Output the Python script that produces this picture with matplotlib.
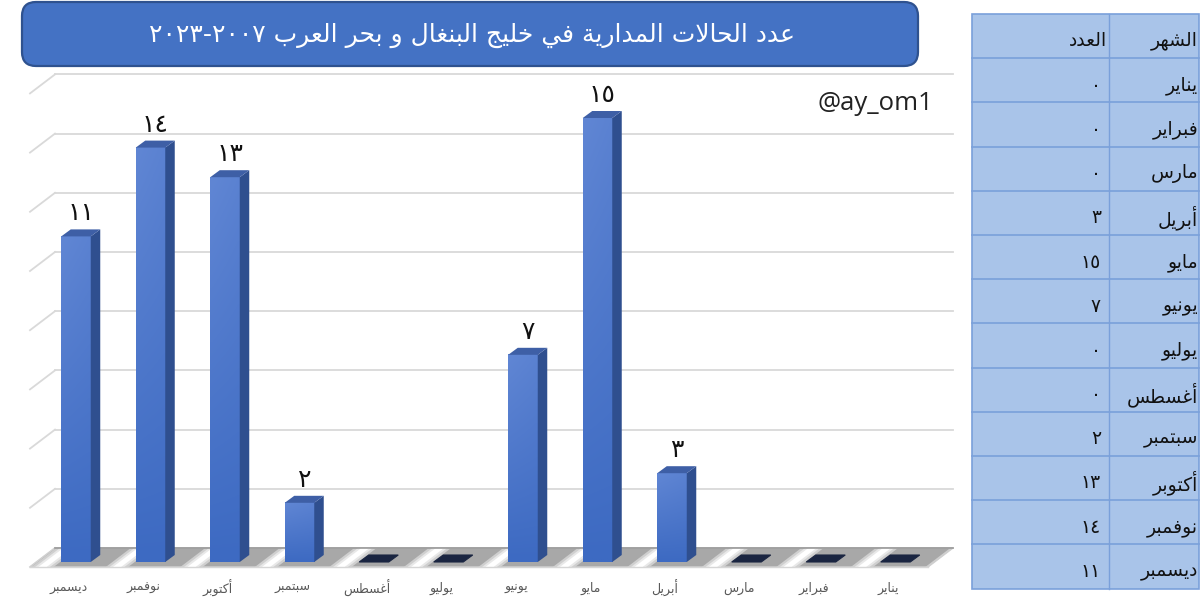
import re

import matplotlib
matplotlib.use("Agg")
import matplotlib.pyplot as plt
import numpy as np
from matplotlib.patches import FancyBboxPatch, Polygon, Rectangle

# ---------------- data ----------------
title = "عدد الحالات المدارية في خليج البنغال و بحر العرب ٢٠٠٧-٢٠٢٣"
handle = "@ay_om1"
months = ["يناير", "فبراير", "مارس", "أبريل", "مايو", "يونيو",
          "يوليو", "أغسطس", "سبتمبر", "أكتوبر", "نوفمبر", "ديسمبر"]
counts = [0, 0, 0, 3, 15, 7, 0, 0, 2, 13, 14, 11]
col_month = "الشهر"
col_count = "العدد"
grid_vals = [0, 2, 4, 6, 8, 10, 12, 14, 16]

# ---------------- minimal arabic shaping (matplotlib has no bidi / joining) ----------------
# isolated, final, initial, medial
FORMS = {
    "ا": ("\uFE8D", "\uFE8E", None, None), "أ": ("\uFE83", "\uFE84", None, None),
    "ب": ("\uFE8F", "\uFE90", "\uFE91", "\uFE92"), "ة": ("\uFE93", "\uFE94", None, None),
    "ت": ("\uFE95", "\uFE96", "\uFE97", "\uFE98"), "ج": ("\uFE9D", "\uFE9E", "\uFE9F", "\uFEA0"),
    "ح": ("\uFEA1", "\uFEA2", "\uFEA3", "\uFEA4"), "خ": ("\uFEA5", "\uFEA6", "\uFEA7", "\uFEA8"),
    "د": ("\uFEA9", "\uFEAA", None, None), "ر": ("\uFEAD", "\uFEAE", None, None),
    "س": ("\uFEB1", "\uFEB2", "\uFEB3", "\uFEB4"), "ش": ("\uFEB5", "\uFEB6", "\uFEB7", "\uFEB8"),
    "ط": ("\uFEC1", "\uFEC2", "\uFEC3", "\uFEC4"), "ع": ("\uFEC9", "\uFECA", "\uFECB", "\uFECC"),
    "غ": ("\uFECD", "\uFECE", "\uFECF", "\uFED0"), "ف": ("\uFED1", "\uFED2", "\uFED3", "\uFED4"),
    "ك": ("\uFED9", "\uFEDA", "\uFEDB", "\uFEDC"), "ل": ("\uFEDD", "\uFEDE", "\uFEDF", "\uFEE0"),
    "م": ("\uFEE1", "\uFEE2", "\uFEE3", "\uFEE4"), "ن": ("\uFEE5", "\uFEE6", "\uFEE7", "\uFEE8"),
    "ه": ("\uFEE9", "\uFEEA", "\uFEEB", "\uFEEC"), "و": ("\uFEED", "\uFEEE", None, None),
    "ي": ("\uFEF1", "\uFEF2", "\uFEF3", "\uFEF4"),
}
LAM_ALEF = {"ا": ("\uFEFB", "\uFEFC"), "أ": ("\uFEF7", "\uFEF8")}


def _dual(c):
    return c in FORMS and FORMS[c][2] is not None


def shape(text):
    out, i, n = [], 0, len(text)
    while i < n:
        c = text[i]
        if c not in FORMS:
            out.append(c); i += 1; continue
        jp = i > 0 and _dual(text[i - 1])
        if c == "ل" and i + 1 < n and text[i + 1] in LAM_ALEF:
            out.append(LAM_ALEF[text[i + 1]][1 if jp else 0]); i += 2; continue
        jn = _dual(c) and i + 1 < n and text[i + 1] in FORMS
        iso, fin, ini, med = FORMS[c]
        out.append(med if jp and jn else fin if jp else ini if jn else iso)
        i += 1
    return "".join(out)


def rtl(text):
    s = shape(text)[::-1]
    return re.sub("[0-9\u0660-\u0669]+", lambda m: m.group(0)[::-1], s)


def ar_num(v):
    return "".join(chr(0x0660 + int(d)) for d in str(v))


# ---------------- figure ----------------
W, H = 1200, 609
fig = plt.figure(figsize=(W / 100, H / 100), dpi=100)
fig.patch.set_facecolor("white")

# chart axes: left 960 px of the figure; 1 x-unit = 74.5 px, 1 y-unit = 29.6 px
PX, PY = 74.5, 29.6
ax = fig.add_axes([0, 0, 960 / W, 1])
ax.axis("off")
xlim = (-76 / PX, (960 - 76) / PX)
ylim = (-47 / PY, (H - 47) / PY)

bw = 29.5 / PX          # front face width
dx, dy = 9.5 / PX, 7 / PY   # bar depth
yf, yb = -5 / PY, 14 / PY   # floor front / back
sx = 25 / PX                # floor shear (front -> back)
fx0, fx1 = -46 / PX, 852 / PX

# back wall gridlines + left wall diagonals
for v in grid_vals:
    ax.plot([fx0 + sx, fx1 + sx], [v + yb, v + yb], color="#d9d9d9", lw=1.3, zorder=1)
    ax.plot([fx0, fx0 + sx], [v + yf, v + yb], color="#d9d9d9", lw=1.3, zorder=1)

# floor: grey band with a white diagonal highlight between each pair of columns
floor_xy = [(fx0, yf), (fx1, yf), (fx1 + sx, yb), (fx0 + sx, yb)]
ax.add_patch(Polygon(floor_xy, closed=True, facecolor="#a8a8a8", edgecolor="#d0d0d0",
                     lw=1, zorder=1.5))
for k in range(-1, 12):
    for w, col in ((0.30, "#cfcfcf"), (0.20, "#e8e8e8"), (0.11, "#ffffff")):
        c0 = k + 0.55 - w / 2
        c1 = k + 0.55 + w / 2
        a0, a1 = max(c0, fx0), min(c1, fx1)
        if a1 <= a0:
            continue
        ax.add_patch(Polygon([(a0, yf), (a1, yf), (a1 + sx, yb), (a0 + sx, yb)],
                             facecolor=col, edgecolor="none", zorder=1.6))
ax.plot([fx0 + sx, fx1 + sx], [yb, yb], color="#9a9a9a", lw=1.2, zorder=2)
ax.plot([fx0, fx1], [yf, yf], color="#d6d6d6", lw=1.0, zorder=2)

# 3d columns, december on the left (rtl order)
top_c = np.array([0x60, 0x86, 0xd4]) / 255
bot_c = np.array([0x3d, 0x6a, 0xc2]) / 255
for i, (m, c) in enumerate(zip(months, counts)):
    x = 11 - i
    x0, x1 = x - bw / 2, x + bw / 2
    if c > 0:
        gv = np.linspace(0, 1, 60)[:, None, None]
        gh = np.linspace(1, 0.85, 8)[None, :, None]
        grad = bot_c + (top_c - bot_c) * gv * gh
        ax.imshow(grad, extent=[x0, x1, 0, c], origin="lower", aspect="auto",
                  interpolation="bilinear", zorder=4)
        ax.add_patch(Polygon([(x1, 0), (x1 + dx, dy), (x1 + dx, c + dy), (x1, c)],
                             facecolor="#2f4f8f", edgecolor="none", zorder=4))
        ax.add_patch(Polygon([(x0, c), (x1, c), (x1 + dx, c + dy), (x0 + dx, c + dy)],
                             facecolor="#3e5fa6", edgecolor="none", zorder=4))
        ax.text(x + dx / 2, c + dy + 4 / PY, ar_num(c), ha="center", va="bottom",
                fontsize=18, color="#111111", family="DejaVu Sans", zorder=5)
    else:
        ax.add_patch(Polygon([(x0, 0), (x1, 0), (x1 + dx, dy), (x0 + dx, dy)],
                             facecolor="#1a2541", edgecolor="#1a2541", lw=0.8, zorder=4))
    ax.text(x - 7 / PX, -26 / PY, rtl(m), ha="center", va="center", fontsize=9,
            color="#595959", family="DejaVu Sans", zorder=5)

ax.text(933 / PX - 76 / PX, (562 - 103) / PY, handle, ha="right", va="center",
        fontsize=18.5, color="#222222", family="Open Sans", zorder=5)
ax.set_xlim(*xlim)
ax.set_ylim(*ylim)

# overlay in pixel coordinates: title banner and the side table
ov = fig.add_axes([0, 0, 1, 1], zorder=3)
ov.set_xlim(0, W)
ov.set_ylim(H, 0)
ov.axis("off")
ov.patch.set_alpha(0)

ov.add_patch(FancyBboxPatch((22, 2), 896, 64, boxstyle="round,pad=0,rounding_size=14",
                            facecolor="#4472c4", edgecolor="#2f528f", lw=1.6))
ov.text(472, 35, rtl(title), ha="center", va="center", fontsize=18, color="white",
        family="DejaVu Sans")

tx0, tx1, tmid = 972, 1199, 1109
ty0, rh = 14, 44.2
nrows = len(months) + 1
ov.add_patch(Rectangle((tx0, ty0), tx1 - tx0, rh * nrows, facecolor="#a9c4e9",
                       edgecolor="#7aa0da", lw=1.2))
for r in range(1, nrows):
    ov.plot([tx0, tx1], [ty0 + r * rh] * 2, color="#7aa0da", lw=1.2)
ov.plot([tmid, tmid], [ty0, ty0 + rh * nrows], color="#7aa0da", lw=1.0)

rows = [(col_month, col_count)] + [(m, ar_num(c)) for m, c in zip(months, counts)]
for r, (m, c) in enumerate(rows):
    yc = ty0 + r * rh + 27
    ov.text(tx1 - 1, yc, rtl(m), ha="right", va="center", fontsize=13.5, color="#111111",
            family="DejaVu Sans")
    ov.text(tmid - 8 if r else tmid - 2, yc, rtl(c), ha="right", va="center", fontsize=13.5,
            color="#111111", family="DejaVu Sans")

fig.savefig("out.png", dpi=100, facecolor="white")
